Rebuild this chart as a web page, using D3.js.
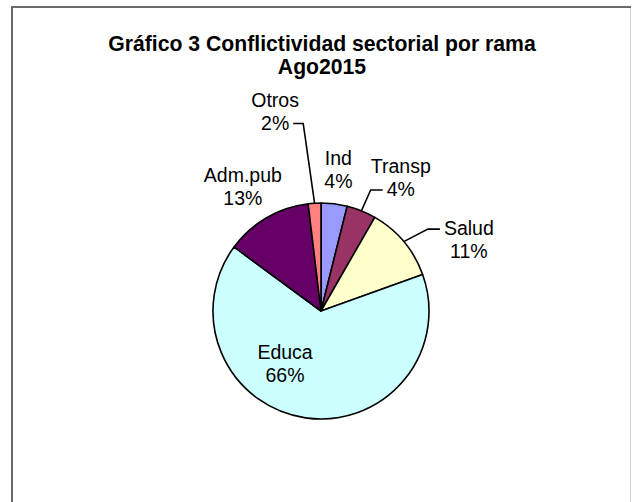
<!DOCTYPE html>
<html>
<head>
<meta charset="utf-8">
<script src="https://cdn.jsdelivr.net/npm/d3@7"></script>
<style>
  body { margin: 0; background: #fff; }
  text { font-family: Arial, "Liberation Sans", sans-serif; fill: #000; }
</style>
</head>
<body>
<div class="pieContainer"></div>
<script>
// Chart data
const titleLines = ["Gráfico 3 Conflictividad sectorial por rama", "Ago2015"];
const categories = ["Ind", "Transp", "Salud", "Educa", "Adm.pub", "Otros"];
const shares = [3.9, 4.4, 11.2, 65.6, 13.0, 1.9];
const colors = ["#9999FF", "#993366", "#FFFFCC", "#CCFFFF", "#660066", "#FF8080"];

// Label layout: [turn in degrees from slice middle, distance as factor of radius]
const labelPlace = [[0, 1.32], [8.9, 1.44], [14.2, 1.52], [26.1, 0.59], [-1.9, 1.36], [-9.5, 1.9]];
// Leader lines: which text line and which side of it they reach (null = none)
const leaders = [null, {line: 1, side: "left"}, {line: 0, side: "left"}, null, null, {line: 1, side: "right"}];

const width = 632, height = 502;
const radius = 108;
const cx = 321, cy = 311;
const lineGap = 23;

const svg = d3.select(".pieContainer")
  .append("svg")
  .attr("width", width)
  .attr("height", height);

// Chart area border (bottom runs past the window)
svg.append("path")
  .attr("d", "M12,510 L12,7 L631,7")
  .attr("fill", "none")
  .attr("stroke", "#6a6a6a")
  .attr("stroke-width", 2);
svg.append("line")
  .attr("x1", 630.5).attr("x2", 630.5)
  .attr("y1", 8).attr("y2", 510)
  .attr("stroke", "#d4d4d4");

// Title
svg.append("g")
  .selectAll("text")
  .data(titleLines)
  .enter()
  .append("text")
  .attr("x", 322)
  .attr("y", (d, i) => 51 + i * 23)
  .attr("text-anchor", "middle")
  .attr("font-size", "21.2px")
  .attr("font-weight", "bold")
  .text(d => d);

const data = categories.map((c, i) => ({name: c, value: shares[i], color: colors[i], idx: i}));
const total = d3.sum(shares);

const pie = d3.pie()
  .sort(null)
  .value(d => d.value);

const arc = d3.arc()
  .innerRadius(0)
  .outerRadius(radius);

const group = svg.append("g")
  .attr("transform", `translate(${cx},${cy})`);

const arcs = pie(data);

group.selectAll(".slice")
  .data(arcs)
  .enter()
  .append("path")
  .attr("class", "slice")
  .attr("d", arc)
  .attr("fill", d => d.data.color)
  .attr("stroke", "#000")
  .attr("stroke-width", 1.6)
  .attr("stroke-linejoin", "round");

// Labels
const toRad = Math.PI / 180;
arcs.forEach(function (d) {
  const i = d.data.idx;
  const mid = (d.startAngle + d.endAngle) / 2;
  const place = labelPlace[i];
  const [lx, ly] = d3.pointRadial(mid + place[0] * toRad, place[1] * radius);
  const lines = [d.data.name, Math.round(d.data.value / total * 100) + "%"];
  const b1 = ly - 4.5;
  const label = group.append("g");
  const texts = label.selectAll("text")
    .data(lines)
    .enter()
    .append("text")
    .attr("x", lx)
    .attr("y", (t, k) => b1 + k * lineGap)
    .attr("text-anchor", "middle")
    .attr("font-size", "19.5px")
    .text(t => t);

  const lead = leaders[i];
  if (lead) {
    const node = texts.nodes()[lead.line];
    const w = node.getComputedTextLength();
    const ay = b1 + lead.line * lineGap - 6;
    const ax = lead.side === "left" ? lx - w / 2 - 4 : lx + w / 2 + 4;
    const ex = lead.side === "left" ? ax - 12 : ax + 10;
    const [sx, sy] = d3.pointRadial(mid, radius);
    group.append("polyline")
      .attr("points", [[sx, sy], [ex, ay], [ax, ay]].map(p => p.join(",")).join(" "))
      .attr("fill", "none")
      .attr("stroke", "#000")
      .attr("stroke-width", 1.6);
  }
});
</script>
</body>
</html>
